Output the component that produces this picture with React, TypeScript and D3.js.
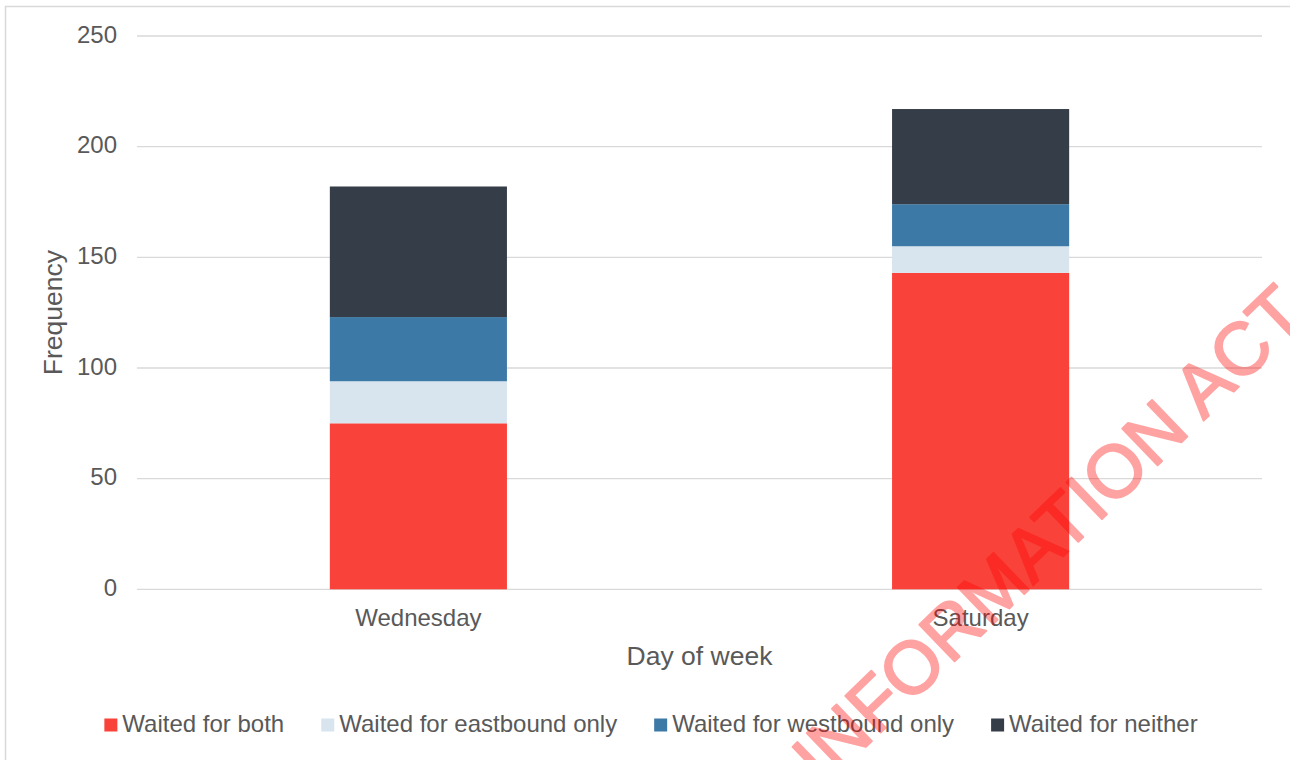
import React, { useMemo } from "react";
import * as d3 from "d3";

// Survey counts by day of week, stacked by waiting behaviour
const days = ["Wednesday", "Saturday"];
const seriesNames = [
  "Waited for both",
  "Waited for eastbound only",
  "Waited for westbound only",
  "Waited for neither",
];
const waitedBoth = [75, 143];
const waitedEastOnly = [19, 12];
const waitedWestOnly = [29, 19];
const waitedNeither = [59, 43];
const yTicks = [0, 50, 100, 150, 200, 250];
const seriesColors = ["#F9423A", "#D8E5EF", "#3D79A6", "#343D48"];

const W = 1290;
const H = 760;
const FONT = "'Liberation Sans', Arial, sans-serif";
const TEXT = "#595959";
const GRID = "#D9D9D9";

function measure(text: string, size: number): number {
  const c = document.createElement("canvas").getContext("2d");
  if (!c) return text.length * size * 0.5;
  c.font = `${size}px ${FONT}`;
  return c.measureText(text).width;
}

export default function App() {
  const rows = days.map((day, i) => ({
    day,
    [seriesNames[0]]: waitedBoth[i],
    [seriesNames[1]]: waitedEastOnly[i],
    [seriesNames[2]]: waitedWestOnly[i],
    [seriesNames[3]]: waitedNeither[i],
  }));

  const stacked = d3.stack<any>().keys(seriesNames)(rows);

  const x = d3
    .scaleBand<string>()
    .domain(days)
    .range([137, 1262])
    .paddingInner(0.685)
    .paddingOuter(0.343);
  const y = d3.scaleLinear().domain([0, 250]).range([589.3, 36]);

  // Legend laid out left to right from measured label widths
  const legend = useMemo(() => {
    const sq = 13;
    const gap = 5;
    const spacing = 37;
    const widths = seriesNames.map((n) => measure(n, 24));
    const total =
      widths.reduce((a, b) => a + b + sq + gap, 0) + spacing * (seriesNames.length - 1);
    let cx = 651 - total / 2;
    return seriesNames.map((n, i) => {
      const item = { name: n, x: cx, color: seriesColors[i] };
      cx += sq + gap + widths[i] + spacing;
      return item;
    });
  }, []);

  const plotMidX = (x.range()[0] + x.range()[1]) / 2;
  const plotMidY = (y.range()[0] + y.range()[1]) / 2;

  // Watermark placement: end of the line and its tilt
  const wmAngle = -44;
  const wmEnd = [1310, 318];

  return (
    <svg
      width={W}
      height={H}
      style={{ position: "absolute", left: 0, top: 0, background: "#fff" }}
      fontFamily={FONT}
    >
      <rect x={0} y={0} width={W} height={H} fill="#fff" />
      <rect
        x={5.5}
        y={6.5}
        width={W + 20}
        height={H + 20}
        fill="none"
        stroke={GRID}
        strokeWidth={1.5}
      />

      {/* gridlines and y tick labels */}
      {yTicks.map((t) => (
        <g key={t}>
          <line
            x1={137}
            x2={1262}
            y1={y(t)}
            y2={y(t)}
            stroke={GRID}
            strokeWidth={1.3}
          />
          <text
            x={117}
            y={y(t) + 6.7}
            textAnchor="end"
            fontSize={24}
            fill={TEXT}
          >
            {t}
          </text>
        </g>
      ))}

      {/* stacked bars */}
      {stacked.map((layer, si) => (
        <g key={layer.key} fill={seriesColors[si]}>
          {layer.map((d: any) => (
            <rect
              key={d.data.day}
              x={x(d.data.day)}
              width={x.bandwidth()}
              y={y(d[1])}
              height={y(d[0]) - y(d[1])}
            />
          ))}
        </g>
      ))}

      {/* category labels */}
      {days.map((d) => (
        <text
          key={d}
          x={(x(d) ?? 0) + x.bandwidth() / 2}
          y={626}
          textAnchor="middle"
          fontSize={24}
          fill={TEXT}
        >
          {d}
        </text>
      ))}

      {/* axis titles */}
      <text x={plotMidX} y={665} textAnchor="middle" fontSize={26.5} fill={TEXT}>
        Day of week
      </text>
      <text
        transform={`translate(62,${plotMidY}) rotate(-90)`}
        textAnchor="middle"
        fontSize={26.5}
        fill={TEXT}
      >
        Frequency
      </text>

      {/* legend */}
      {legend.map((l) => (
        <g key={l.name}>
          <rect x={l.x} y={718.5} width={13} height={13} fill={l.color} />
          <text x={l.x + 18} y={732} fontSize={24} fill={TEXT}>
            {l.name}
          </text>
        </g>
      ))}

      {/* watermark, composited once so the thickened outline blends evenly */}
      <g opacity={0.36}>
        <text
          transform={`translate(${wmEnd[0]},${wmEnd[1]}) rotate(${wmAngle})`}
          textAnchor="end"
          fontSize={74}
          fill="#FF0000"
          stroke="#FF0000"
          strokeWidth={2}
          strokeLinejoin="round"
        >
          INFORMATION ACT
        </text>
      </g>
    </svg>
  );
}
